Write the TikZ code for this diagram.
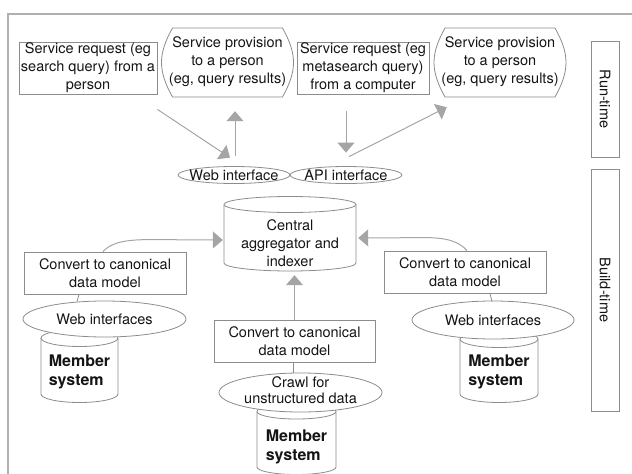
\documentclass[tikz,border=0pt]{standalone}
\usepackage{fontspec}
\setmainfont{TeX Gyre Heros}
\usetikzlibrary{arrows.meta,shapes.geometric,calc}
\definecolor{edgegray}{RGB}{140,140,140}
\definecolor{wiregray}{RGB}{165,165,165}
\definecolor{framegray}{RGB}{175,175,175}

% cylinder outline: centre x, half width, top y, bottom y, cap radius
\newcommand\drumshape[5]{%
  \draw[outline] ({#1-#2},#3) -- ({#1-#2},#4)
    arc[start angle=180,end angle=360,x radius=#2pt,y radius=#5pt]
    -- ({#1+#2},#3)
    arc[start angle=0,end angle=180,x radius=#2pt,y radius=#5pt] -- cycle;
  \draw[tie] ({#1-#2},#3) arc[start angle=180,end angle=360,x radius=#2pt,y radius=#5pt];}

\begin{document}
\begin{tikzpicture}[x=1pt,y=-1pt,
  lbl/.style={font=\fontsize{14.5}{18}\selectfont, align=center, inner sep=0pt, text=black!92},
  box/.style={lbl, draw=edgegray, line width=0.8pt, rectangle},
  oval/.style={draw=edgegray, line width=0.8pt, ellipse, fill=white, inner sep=0pt},
  outline/.style={draw=edgegray, line width=0.8pt, fill=white},
  tie/.style={draw=edgegray, line width=0.8pt},
  flow/.style={draw=wiregray, line width=1pt, -{Triangle[length=10pt,width=17pt]}},
  drumtext/.style={font=\fontsize{16}{19}\selectfont\bfseries, align=left, inner sep=0pt, text=black!92},
  provpic/.pic={
    \draw[outline] (-55,-34.5) -- (55,-34.5)
      .. controls (62,-22) and (66,-11) .. (66,0)
      .. controls (66,11) and (62,22) .. (55,34.5)
      -- (-55,34.5)
      .. controls (-62,22) and (-66,11) .. (-66,0)
      .. controls (-66,-11) and (-62,-22) .. cycle;
  },
]
\useasboundingbox (0,0) rectangle (632,474);

% outer frame, running off the right and bottom edges
\draw[draw=framegray, line width=1.3pt] (8,14) rectangle (660,500);

% run-time requests and responses
\node[box, minimum width=138pt, minimum height=52pt] (reqA) at (88,68)
  {Service request (eg\\search query) from a\\person};
\node[box, minimum width=132pt, minimum height=52pt] (reqB) at (363,68)
  {Service request (eg\\metasearch query)\\from a computer};

\pic at (227.5,62.5) {provpic};
\node[lbl, minimum width=132pt, minimum height=69pt] (provA) at (227.5,62)
  {Service provision\\to a person\\(eg, query results)};
\pic at (500,62.5) {provpic};
\node[lbl, minimum width=132pt, minimum height=69pt] (provB) at (500,62)
  {Service provision\\to a person\\(eg, query results)};

% phase labels
\node[box, rotate=-90, minimum width=116pt, minimum height=28pt] (run) at (605,99) {Run-time};
\node[box, rotate=-90, minimum width=242pt, minimum height=28pt] (build) at (605,290) {Build-time};

% interfaces
\node[oval, minimum width=112pt, minimum height=17pt,
  label={[lbl]center:Web interface}] (webif) at (234,175) {};
\node[oval, minimum width=112pt, minimum height=17pt,
  label={[lbl]center:API interface}] (apiif) at (346,175) {};

% central aggregator
\drumshape{290}{66}{204.5}{263}{8}
\node[lbl, minimum width=132pt, minimum height=64pt] (hub) at (290,243)
  {Central\\aggregator and\\indexer};

% member systems
\drumshape{79.5}{38.5}{338}{394}{8.5}
\node[drumtext] (memA) at (79.5,371.5) {Member\\system};
\drumshape{296.5}{39.5}{411.5}{467}{7.5}
\node[drumtext] (memM) at (296.5,446.5) {Member\\system};
\drumshape{499}{39}{339}{394}{8.5}
\node[drumtext] (memB) at (499,372) {Member\\system};

% access layers
\node[oval, minimum width=163pt, minimum height=36pt,
  label={[lbl]center:Web interfaces}] (wiA) at (104.5,319) {};
\node[oval, minimum width=162pt, minimum height=38pt,
  label={[lbl]center:Web interfaces}] (wiB) at (493,320) {};
\node[oval, minimum width=163pt, minimum height=39pt,
  label={[lbl, font=\fontsize{14.5}{16}\selectfont, yshift=2.5pt]center:Crawl for\\unstructured data}] (crawl) at (300.5,392.5) {};

% conversion steps
\node[box, minimum width=162pt, minimum height=42pt] (convA) at (105,273)
  {Convert to canonical\\data model};
\node[box, minimum width=161pt, minimum height=42pt] (convM) at (294.5,341)
  {Convert to canonical\\data model};
\node[box, minimum width=162pt, minimum height=42pt] (convB) at (465,272)
  {Convert to canonical\\data model};

% links between conversion and access layers
\draw[tie] ($(convA.south)+(-26,0)$) -- ($(wiA.north)+(-27.5,1)$);
\draw[tie] ($(convB.south)+(25,0)$) -- ($(wiB.north)+(-1,1)$);
\draw[tie] ($(convM.south)+(-1.5,0)$) -- ($(convM.south)+(-1.5,11)$);

% run-time flows
\draw[flow] ($(reqA.south east)+(0,15)$) -- ($(webif.north)+(-4,-8.5)$);
\draw[flow] ($(webif.north)+(1,-10)$) -- ($(provA.south)+(7.5,14.5)$);
\draw[flow] ($(reqB.south)+(-17,17)$) -- ($(apiif.north)+(0,-13.5)$);
\draw[flow] ($(apiif.north)+(3,-9.5)$) -- ($(provB.south west)+(13,10.5)$);

% build-time flows
\draw[flow] ($(convA.north)+(-2,0)$)
  .. controls ($(convA.north)+(6,-9)$) and ($(convA.north)+(20,-12)$) .. ($(convA.north)+(45,-12)$)
  -- ($(hub.west)+(-1,-3)$);
\draw[flow] ($(convB.north)+(2,0)$)
  .. controls ($(convB.north)+(-6,-9)$) and ($(convB.north)+(-18,-13)$) .. ($(convB.north)+(-40,-13)$)
  -- ($(hub.east)+(2,-5)$);
\draw[flow] (convM.north) -- (convM.north |- hub.south);
\end{tikzpicture}
\end{document}
